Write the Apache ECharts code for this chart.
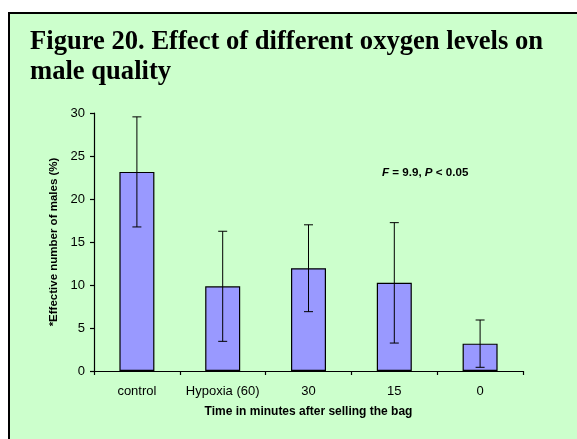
<!DOCTYPE html>
<html>
<head>
<meta charset="utf-8">
<script src="https://cdn.jsdelivr.net/npm/echarts@6/dist/echarts.min.js"></script>
<style>
  html, body { margin: 0; padding: 0; background: #fff; }
  #main { width: 577px; height: 439px; }
</style>
</head>
<body>
<div id="main"></div>
<script>
// categories (x axis)
var groups = ['control', 'Hypoxia (60)', '30', '15', '0'];
// mean effective number of males (%)
var means = [23.15, 9.85, 11.95, 10.25, 3.18];
// error (+/-) for each bar
var errs = [6.4, 6.4, 5.05, 7.0, 2.75];
// y ticks
var yMax = 30;
var yStep = 5;

var chart = echarts.init(document.getElementById('main'), null, { renderer: 'canvas' });

// error bar data: [index, low, high]
var errData = [];
for (var i = 0; i < groups.length; i++) {
  errData.push([i, means[i] - errs[i], means[i] + errs[i]]);
}

chart.setOption({
  backgroundColor: '#ffffff',
  animation: false,
  title: {
    text: 'Figure 20. Effect of different oxygen levels on\nmale quality',
    left: 30,
    top: 27,
    padding: 0,
    textStyle: {
      fontFamily: '"Liberation Serif", "Times New Roman", serif',
      fontWeight: 'bold',
      fontSize: 26.6,
      lineHeight: 30,
      color: '#000'
    }
  },
  graphic: [
    {
      type: 'rect',
      z: -10,
      shape: { x: 9, y: 13, width: 700, height: 600 },
      style: { fill: '#ccffcc', stroke: '#000', lineWidth: 2 }
    },
    {
      type: 'text',
      left: 382,
      top: 167,
      style: {
        text: '{i|F} = 9.9, {i|P} < 0.05',
        font: 'bold 11.6px "Liberation Sans", Arial, sans-serif',
        fill: '#000',
        rich: {
          i: { fontStyle: 'italic', fontWeight: 'bold', fontSize: 11.6, fontFamily: '"Liberation Sans", Arial, sans-serif' }
        }
      }
    }
  ],
  grid: {
    left: 94,
    right: 54,
    top: 113,
    bottom: 68
  },
  xAxis: {
    type: 'category',
    data: groups,
    name: 'Time in minutes after selling the bag',
    nameLocation: 'middle',
    nameGap: 35,
    nameTextStyle: {
      fontFamily: '"Liberation Sans", Arial, sans-serif',
      fontWeight: 'bold',
      fontSize: 12,
      color: '#000'
    },
    axisLine: { lineStyle: { color: '#000', width: 1.2 } },
    axisTick: { show: true, length: 4, interval: 0, alignWithLabel: false, lineStyle: { color: '#000', width: 1.2 } },
    axisLabel: {
      interval: 0,
      margin: 14,
      fontFamily: '"Liberation Sans", Arial, sans-serif',
      fontSize: 13,
      color: '#000'
    },
    splitLine: { show: false }
  },
  yAxis: {
    type: 'value',
    min: 0,
    max: yMax,
    interval: yStep,
    name: '*Effective number of males (%)',
    nameLocation: 'middle',
    nameGap: 31,
    nameTextStyle: {
      fontFamily: '"Liberation Sans", Arial, sans-serif',
      fontWeight: 'bold',
      fontSize: 11.5,
      color: '#000'
    },
    axisLine: { show: true, lineStyle: { color: '#000', width: 1.2 } },
    axisTick: { show: true, length: 4, lineStyle: { color: '#000', width: 1.2 } },
    axisLabel: {
      margin: 9,
      fontFamily: '"Liberation Sans", Arial, sans-serif',
      fontSize: 13,
      color: '#000'
    },
    splitLine: { show: false }
  },
  series: [
    {
      type: 'bar',
      data: means,
      barWidth: 35,
      itemStyle: { color: '#9999ff', borderColor: '#000', borderWidth: 1.2 }
    },
    {
      type: 'custom',
      data: errData,
      z: 5,
      renderItem: function (params, api) {
        var x = api.value(0);
        var lo = api.coord([x, api.value(1)]);
        var hi = api.coord([x, api.value(2)]);
        var cap = 4.5;
        var st = { stroke: '#000', lineWidth: 1 };
        return {
          type: 'group',
          children: [
            { type: 'line', shape: { x1: lo[0], y1: lo[1], x2: hi[0], y2: hi[1] }, style: st },
            { type: 'line', shape: { x1: lo[0] - cap, y1: lo[1], x2: lo[0] + cap, y2: lo[1] }, style: st },
            { type: 'line', shape: { x1: hi[0] - cap, y1: hi[1], x2: hi[0] + cap, y2: hi[1] }, style: st }
          ]
        };
      }
    }
  ]
});
</script>
</body>
</html>
